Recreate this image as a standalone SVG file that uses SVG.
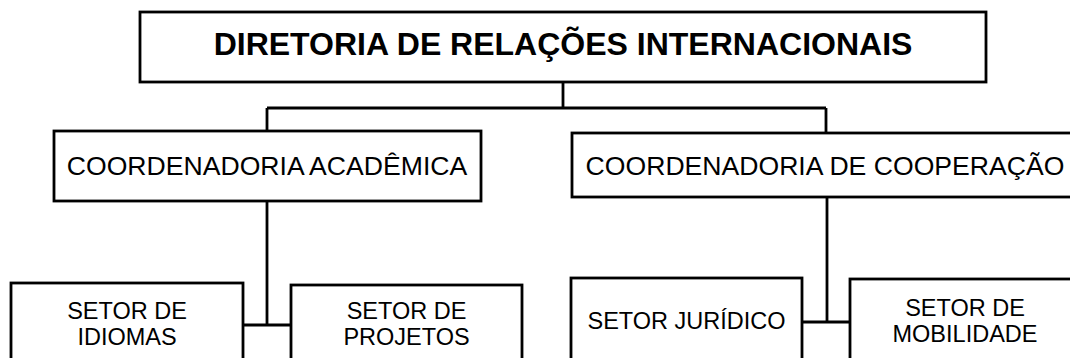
<svg xmlns="http://www.w3.org/2000/svg" width="1070" height="358" viewBox="0 0 1070 358">
<style>
.box{fill:#fff;stroke:#000;stroke-width:2.8}
.ln{fill:none;stroke:#000;stroke-width:2.8}
text{font-family:"Liberation Sans",Arial,sans-serif;fill:#000;text-anchor:middle}
.t1{font-size:32px;font-weight:bold}
.t2{font-size:26.6px}
.t3{font-size:23.5px}
</style>
<rect width="1070" height="358" fill="#fff"/>
<g id="connectors">
<path class="ln" d="M563,82 V108 M267,108 H826 M267,108 V131 M826,108 V133"/>
<path class="ln" d="M267,201 V325 M243,325 H291"/>
<path class="ln" d="M827,197 V322 M802,322 H850"/>
</g>
<g id="diretoria">
<rect class="box" x="140" y="12" width="846" height="70"/>
<text class="t1" x="563" y="55">DIRETORIA DE RELAÇÕES INTERNACIONAIS</text>
</g>
<g id="coord-academica">
<rect class="box" x="54" y="131" width="427" height="70"/>
<text class="t2" x="267" y="175">COORDENADORIA ACADÊMICA</text>
</g>
<g id="coord-cooperacao">
<rect class="box" x="572" y="133" width="506" height="64"/>
<text class="t2" x="825" y="175">COORDENADORIA DE COOPERAÇÃO</text>
</g>
<g id="setor-idiomas">
<rect class="box" x="11" y="283" width="232" height="100"/>
<text class="t3" x="127" y="319">SETOR DE</text>
<text class="t3" x="127" y="345">IDIOMAS</text>
</g>
<g id="setor-projetos">
<rect class="box" x="291" y="285" width="231" height="100"/>
<text class="t3" x="406.5" y="319">SETOR DE</text>
<text class="t3" x="406.5" y="345">PROJETOS</text>
</g>
<g id="setor-juridico">
<rect class="box" x="571" y="278" width="231" height="100"/>
<text class="t3" x="686.5" y="329">SETOR JURÍDICO</text>
</g>
<g id="setor-mobilidade">
<rect class="box" x="850" y="279" width="231" height="100"/>
<text class="t3" x="965" y="316">SETOR DE</text>
<text class="t3" x="965" y="342">MOBILIDADE</text>
</g>
</svg>
